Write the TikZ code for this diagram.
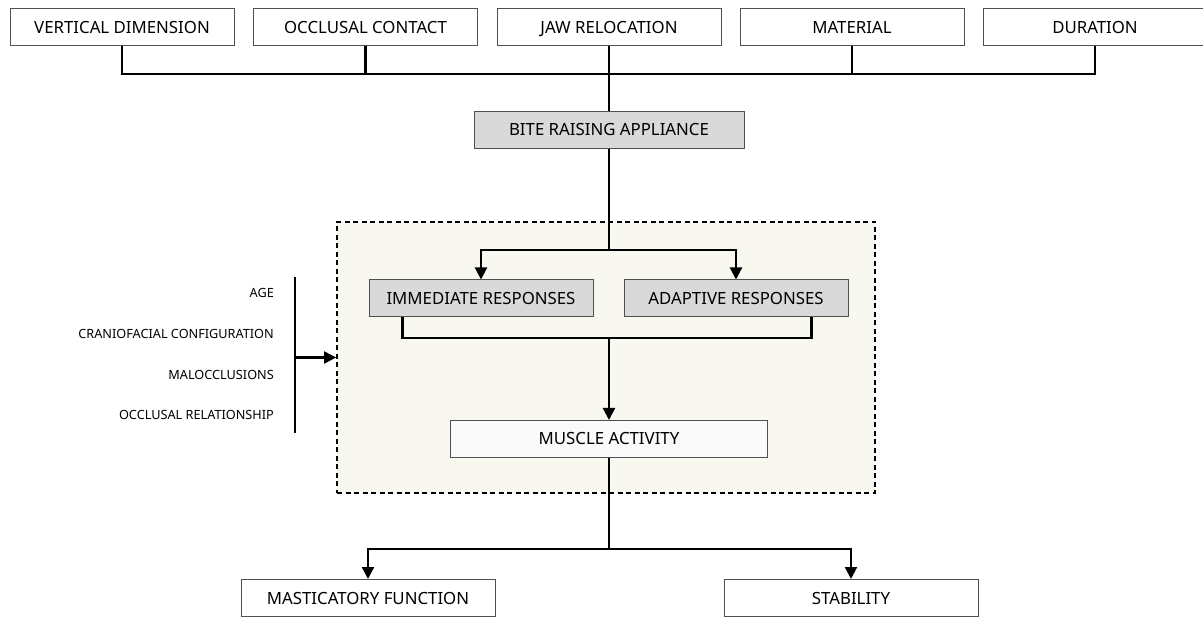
\documentclass[tikz,border=0pt]{standalone}
\usepackage{fontspec}
\setmainfont{Noto Sans}
\usetikzlibrary{arrows.meta}
\definecolor{myGray}{RGB}{217,217,217}
\definecolor{myIvory}{RGB}{248,248,240}
\definecolor{myWhite}{RGB}{250,250,250}
\definecolor{myEdge}{RGB}{80,80,80}

\begin{document}
\begin{tikzpicture}[%
    x=1pt, y=-1pt,
    every node/.style={
        font=\fontsize{16.8}{19}\selectfont,
    },
    box/.style={draw=myEdge, line width=1pt, inner sep=0pt, minimum height=37,
        text height=12pt, text depth=0pt},
    side/.style={font=\fontsize{12.7}{14}\selectfont, anchor=east, inner sep=0pt},
    link/.style={line width=2.2pt},
    arr/.style={link, -{Triangle[length=12pt,width=12pt]}},
]
\useasboundingbox (0,0) rectangle (1203,617);

% place dashed frame
\node[draw, dashed, dash pattern=on 5pt off 3.5pt, line width=1.8pt, fill=myIvory,
      minimum width=538, minimum height=271, inner sep=0pt] (frame) at (606,357.5) {};

% place top boxes
\foreach \name/\x/\txt in {vert/122/VERTICAL DIMENSION, occl/365.5/OCCLUSAL CONTACT,
    jaw/609/JAW RELOCATION, mat/852/MATERIAL, dur/1095/DURATION} {
    \node[box, minimum width=224] (\name) at (\x,27.5) {\txt};
}

% place middle boxes
\node[box, fill=myGray, minimum width=270] (bite) at (609,130) {BITE RAISING APPLIANCE};
\node[box, fill=myGray, minimum width=224] (imm) at (481,298.5) {IMMEDIATE RESPONSES};
\node[box, fill=myGray, minimum width=224] (adap) at (736,298.5) {ADAPTIVE RESPONSES};
\node[box, fill=myWhite, minimum width=317] (muscle) at (609,439) {MUSCLE ACTIVITY};

% place bottom boxes
\node[box, minimum width=254] (masti) at (368,598) {MASTICATORY FUNCTION};
\node[box, minimum width=254] (stab) at (851,598) {STABILITY};

% place side labels
\node[side] (age) at (274,293) {AGE};
\node[side] (cranio) at (274,334) {CRANIOFACIAL CONFIGURATION};
\node[side] (maloc) at (274,375) {MALOCCLUSIONS};
\node[side] (relat) at (274,415) {OCCLUSAL RELATIONSHIP};

% junction points
\coordinate (bus) at (609,74);
\coordinate (split) at (609,250);
\coordinate (merge) at (609,338);
\coordinate (out) at (609,549);
\coordinate (barTop) at (295,277);
\coordinate (barBot) at (295,433);

% draw top bus
\foreach \name in {vert,occl,mat,dur} {
    \draw [link] (\name.south) |- (bus);
}
\draw [link] (jaw.south) -- (bite.north);

% draw responses
\draw [link] (bite.south) -- (split);
\draw [arr] (split) -| (imm.north);
\draw [arr] (split) -| (adap.north);
\draw [link] ([xshift=34pt]imm.south west) |- (merge) -| ([xshift=-37pt]adap.south east);
\draw [arr] (merge) -- (muscle.north);

% draw outcomes
\draw [link] (muscle.south) -- (out);
\draw [arr] (out) -| (masti.north);
\draw [arr] (out) -| (stab.north);

% draw side bar
\draw [link] (barTop) -- (barBot);
\draw [arr] (barTop |- frame.west) -- (frame.west);

\end{tikzpicture}
\end{document}
